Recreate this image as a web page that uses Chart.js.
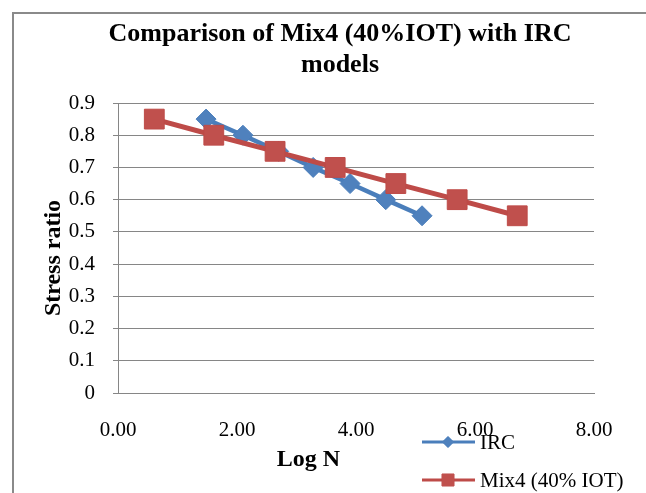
<!DOCTYPE html>
<html><head><meta charset="utf-8">
<script src="https://cdn.jsdelivr.net/npm/chart.js@4.4.1/dist/chart.umd.min.js"></script>
<style>html,body{margin:0;padding:0;background:#fff}#c{display:block}</style>
</head><body>
<canvas id="c" width="646" height="493"></canvas>
<script>
const chartTitle = ['Comparison of Mix4 (40%IOT) with IRC', 'models'];
const xTitle = 'Log N';
const yTitle = 'Stress ratio';
const seriesNames = ['IRC', 'Mix4 (40% IOT)'];
const ircLogN = [1.48, 2.10, 2.70, 3.28, 3.90, 4.50, 5.11];
const ircStress = [0.85, 0.80, 0.75, 0.70, 0.65, 0.60, 0.55];
const mixLogN = [0.61, 1.61, 2.64, 3.65, 4.67, 5.70, 6.71];
const mixStress = [0.85, 0.80, 0.75, 0.70, 0.65, 0.60, 0.55];
const xTickValues = [0, 2, 4, 6, 8];
const yTickValues = [0, 0.1, 0.2, 0.3, 0.4, 0.5, 0.6, 0.7, 0.8, 0.9];

const BLUE = '#4A7EBB', BLUE_FILL = '#4F81BD';
const RED = '#BE4B48', RED_FILL = '#C0504D';
const GRID = '#868686';
const SERIF = "'Liberation Serif', 'Times New Roman', serif";

const toPts = (xs, ys) => xs.map((x, i) => ({x: x, y: ys[i]}));

const decor = {
  id: 'decor',
  afterDraw(chart) {
    const ctx = chart.ctx;
    const ca = chart.chartArea;
    ctx.save();
    // outer frame
    ctx.strokeStyle = '#8a8a8a';
    ctx.lineWidth = 2;
    ctx.beginPath();
    ctx.moveTo(13, 493); ctx.lineTo(13, 13); ctx.lineTo(646, 13);
    ctx.stroke();
    // title
    ctx.fillStyle = '#000';
    ctx.font = "bold 26px " + SERIF;
    ctx.textAlign = 'center';
    ctx.textBaseline = 'alphabetic';
    ctx.fillText(chartTitle[0], 340, 41);
    ctx.fillText(chartTitle[1], 340, 72);
    // axis titles
    ctx.font = "bold 24px " + SERIF;
    ctx.fillText(xTitle, ca.left + (ca.right - ca.left) * 0.4, 466);
    ctx.save();
    ctx.translate(54, (ca.top + ca.bottom) / 2 + 10);
    ctx.rotate(-Math.PI / 2);
    ctx.textBaseline = 'middle';
    ctx.fillText(yTitle, 0, 0);
    ctx.restore();
    // legend
    const items = [
      {name: seriesNames[0], color: BLUE, fill: BLUE_FILL, style: 'rectRot', r: 5.5, y: 442},
      {name: seriesNames[1], color: RED, fill: RED_FILL, style: 'rect', r: 8.5, y: 480}
    ];
    items.forEach(it => {
      ctx.strokeStyle = it.color;
      ctx.lineWidth = 3;
      ctx.beginPath();
      ctx.moveTo(422, it.y); ctx.lineTo(475, it.y);
      ctx.stroke();
      ctx.fillStyle = it.fill;
      ctx.lineWidth = 1;
      Chart.helpers.drawPoint(ctx, {pointStyle: it.style, radius: it.r, borderWidth: 1, rotation: 0}, 448, it.y);
      ctx.fill();
      ctx.fillStyle = '#000';
      ctx.font = "21px " + SERIF;
      ctx.textAlign = 'left';
      ctx.textBaseline = 'middle';
      ctx.fillText(it.name, 480, it.y + 1);
    });
    ctx.restore();
  }
};

new Chart(document.getElementById('c'), {
  type: 'scatter',
  data: {
    datasets: [
      {
        label: seriesNames[1],
        data: toPts(mixLogN, mixStress),
        showLine: true,
        borderColor: RED,
        backgroundColor: RED_FILL,
        borderWidth: 5,
        pointStyle: 'rect',
        pointRadius: 14,
        pointHoverRadius: 14,
        pointBorderColor: RED,
        pointBackgroundColor: RED_FILL,
        pointBorderWidth: 1,
        order: 0
      },
      {
        label: seriesNames[0],
        data: toPts(ircLogN, ircStress),
        showLine: true,
        borderColor: BLUE,
        backgroundColor: BLUE_FILL,
        borderWidth: 4.5,
        pointStyle: 'rectRot',
        pointRadius: 10,
        pointHoverRadius: 10,
        pointBorderColor: BLUE,
        pointBackgroundColor: BLUE_FILL,
        pointBorderWidth: 1,
        order: 1
      }
    ]
  },
  options: {
    responsive: false,
    animation: false,
    devicePixelRatio: 1,
    layout: {padding: {left: 0, top: 103, right: 52, bottom: 0}},
    plugins: {legend: {display: false}, title: {display: false}, tooltip: {enabled: false}},
    scales: {
      x: {
        type: 'linear',
        min: 0, max: 8,
        afterFit(s) { s.height = 100; },
        afterBuildTicks(s) { s.ticks = xTickValues.map(v => ({value: v})); },
        grid: {display: false, drawTicks: false},
        border: {display: true, color: GRID, width: 1},
        ticks: {
          padding: 25,
          color: '#000',
          font: {family: SERIF, size: 21},
          callback: v => Number(v).toFixed(2)
        }
      },
      y: {
        type: 'linear',
        min: 0, max: 0.9,
        afterFit(s) { s.width = 118; },
        afterBuildTicks(s) { s.ticks = yTickValues.map(v => ({value: v})); },
        grid: {color: GRID, lineWidth: 1, drawTicks: true, tickLength: 5},
        border: {display: true, color: GRID, width: 1},
        ticks: {
          padding: 18,
          color: '#000',
          font: {family: SERIF, size: 21},
          callback: v => v === 0 ? '0' : Number(v).toFixed(1)
        }
      }
    }
  },
  plugins: [decor]
});
</script>
</body></html>
